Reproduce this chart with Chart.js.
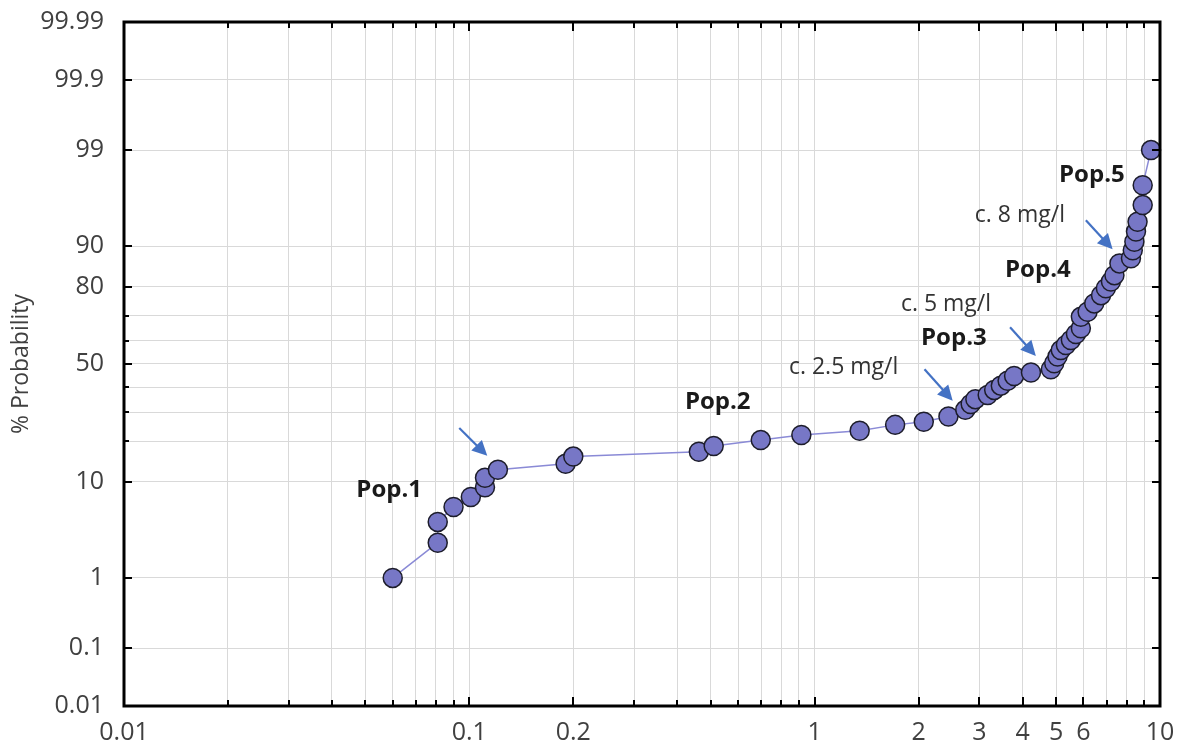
<!DOCTYPE html>
<html lang="en">
<head>
<meta charset="UTF-8">
<title>Probability plot</title>
<script src="https://cdn.jsdelivr.net/npm/chart.js"></script>
<style>
  html, body { margin: 0; padding: 0; background: #fff; }
</style>
</head>
<body>
<canvas id="probChart" width="1183" height="747"></canvas>
<script>
// concentration (mg/l) vs cumulative % probability
const conc = [0.060, 0.081, 0.081, 0.090, 0.101, 0.111, 0.111, 0.121, 0.190, 0.200,
              0.462, 0.510, 0.698, 0.915, 1.35, 1.71, 2.07, 2.44, 2.73, 2.83,
              2.92, 3.17, 3.31, 3.46, 3.62, 3.78, 4.23, 4.83, 4.94, 5.05,
              5.16, 5.34, 5.52, 5.71, 5.90, 5.90, 6.17, 6.45, 6.75, 6.97,
              7.21, 7.38, 7.63, 8.24, 8.34, 8.43, 8.52, 8.61, 8.91, 8.91, 9.42];
const prob = [1.0, 2.6, 4.3, 6.0, 7.4, 9.0, 10.8, 12.5, 13.9, 15.7,
              17.0, 18.6, 20.4, 22.0, 23.4, 25.4, 26.5, 28.4, 30.9, 33.2,
              35.1, 36.8, 38.9, 40.7, 42.8, 44.8, 46.3, 47.7, 50.3, 53.2,
              56.0, 58.2, 60.3, 62.8, 65.1, 69.6, 71.5, 74.5, 77.3, 79.5,
              81.5, 83.3, 86.3, 87.5, 89.2, 90.8, 92.5, 93.9, 95.8, 97.4, 99.0];

// axes
const xTickLabels = ['0.01', '0.1', '0.2', '1', '2', '3', '4', '5', '6', '10'];
const yGrid = [0.01, 0.1, 1, 10, 20, 30, 40, 50, 60, 70, 80, 90, 99, 99.9, 99.99];
const yTickLabels = [0.01, 0.1, 1, 10, 50, 80, 90, 99, 99.9, 99.99];

// annotations (data coordinates)
const popLabels = [
  { text: 'Pop.1', x: 0.0586, y: 8.5 },
  { text: 'Pop.2', x: 0.524, y: 34 },
  { text: 'Pop.3', x: 2.53, y: 61.1 },
  { text: 'Pop.4', x: 4.43, y: 84.7 },
  { text: 'Pop.5', x: 6.35, y: 98.0 }
];
const noteLabels = [
  { text: 'c. 2.5 mg/l', x: 1.213, y: 48.3 },
  { text: 'c. 5 mg/l', x: 2.40, y: 74.3 },
  { text: 'c. 8 mg/l', x: 3.93, y: 94.7 }
];
const arrows = [
  { from: [0.0935, 24.3], to: [0.1127, 15.9] },
  { from: [2.08, 47.7], to: [2.51, 34.5] },
  { from: [3.68, 65.5], to: [4.37, 53.5] },
  { from: [6.10, 94.1], to: [7.29, 89.4] }
];

// every 1..9 x 10^n line between 0.01 and 10
const xGrid = [];
for (let e = -2; e <= 0; e++) {
  for (let k = 1; k <= 9; k++) xGrid.push(parseFloat((k * Math.pow(10, e)).toPrecision(6)));
}
xGrid.push(10);

// inverse normal cdf (Acklam)
function probit(p) {
  const a = [-3.969683028665376e+01, 2.209460984245205e+02, -2.759285104469687e+02, 1.383577518672690e+02, -3.066479806614716e+01, 2.506628277459239e+00];
  const b = [-5.447609879822406e+01, 1.615858368580409e+02, -1.556989798598866e+02, 6.680131188771972e+01, -1.328068155288572e+01];
  const c = [-7.784894002430293e-03, -3.223964580411365e-01, -2.400758277161838e+00, -2.549671010114643e+00, 4.374664141464968e+00, 2.938163982698783e+00];
  const d = [7.784695709041462e-03, 3.224671290700398e-01, 2.445134137142996e+00, 3.754408661907416e+00];
  const pl = 0.02425;
  let q, r;
  if (p < pl) {
    q = Math.sqrt(-2 * Math.log(p));
    return (((((c[0]*q+c[1])*q+c[2])*q+c[3])*q+c[4])*q+c[5]) / ((((d[0]*q+d[1])*q+d[2])*q+d[3])*q+1);
  }
  if (p > 1 - pl) {
    q = Math.sqrt(-2 * Math.log(1 - p));
    return -(((((c[0]*q+c[1])*q+c[2])*q+c[3])*q+c[4])*q+c[5]) / ((((d[0]*q+d[1])*q+d[2])*q+d[3])*q+1);
  }
  q = p - 0.5; r = q * q;
  return (((((a[0]*r+a[1])*r+a[2])*r+a[3])*r+a[4])*r+a[5])*q / (((((b[0]*r+b[1])*r+b[2])*r+b[3])*r+b[4])*r+1);
}
function normCdf(z) {
  const t = 1 / (1 + 0.2316419 * Math.abs(z));
  const d = 0.3989423 * Math.exp(-z * z / 2);
  const p = d * t * (0.3193815 + t * (-0.3565638 + t * (1.781478 + t * (-1.821256 + t * 1.330274))));
  return z > 0 ? 1 - p : p;
}

// normal probability axis
class ProbitScale extends Chart.Scale {
  static id = 'probit';
  static defaults = {};
  determineDataLimits() {
    this.min = this.options.min;
    this.max = this.options.max;
  }
  buildTicks() {
    return yGrid.map(v => ({ value: v }));
  }
  getLabelForValue(v) { return String(v); }
  configure() {
    super.configure();
    this._zMin = probit(this.min / 100);
    this._zRange = probit(this.max / 100) - this._zMin;
  }
  getPixelForValue(v) {
    if (v === undefined || v === null || isNaN(v)) return NaN;
    return this.getPixelForDecimal((probit(v / 100) - this._zMin) / this._zRange);
  }
  getValueForPixel(px) {
    return 100 * normCdf(this._zMin + this.getDecimalForPixel(px) * this._zRange);
  }
}
Chart.register(ProbitScale);

const FONT = "'Open Sans', sans-serif";
const TXT = '#404040';

const overlay = {
  id: 'overlay',
  afterDatasetsDraw(chart) {
    const { ctx, chartArea: a, scales: { x, y } } = chart;
    const seg = (x1, y1, x2, y2) => { ctx.beginPath(); ctx.moveTo(x1, y1); ctx.lineTo(x2, y2); ctx.stroke(); };
    ctx.save();
    // inward tick marks on all four sides
    ctx.strokeStyle = '#000';
    ctx.lineWidth = 2;
    x.ticks.forEach(t => {
      const px = Math.round(x.getPixelForValue(t.value));
      const len = t.label ? 9 : 6;
      seg(px, a.bottom, px, a.bottom - len);
      seg(px, a.top, px, a.top + len);
    });
    y.ticks.forEach(t => {
      const py = Math.round(y.getPixelForValue(t.value));
      const len = t.label ? 8 : 5;
      seg(a.left, py, a.left + len, py);
      seg(a.right, py, a.right - len, py);
    });
    // frame
    ctx.lineWidth = 3;
    ctx.strokeRect(a.left, a.top, a.right - a.left, a.bottom - a.top);

    // arrows
    ctx.strokeStyle = '#4472c4';
    ctx.fillStyle = '#4472c4';
    ctx.lineWidth = 2.2;
    arrows.forEach(ar => {
      const x1 = x.getPixelForValue(ar.from[0]), y1 = y.getPixelForValue(ar.from[1]);
      const x2 = x.getPixelForValue(ar.to[0]), y2 = y.getPixelForValue(ar.to[1]);
      const ang = Math.atan2(y2 - y1, x2 - x1);
      const hl = 15, hw = 7.5;
      const bx = x2 - hl * Math.cos(ang), by = y2 - hl * Math.sin(ang);
      seg(x1, y1, bx + 2 * Math.cos(ang), by + 2 * Math.sin(ang));
      ctx.beginPath();
      ctx.moveTo(x2, y2);
      ctx.lineTo(bx + hw * Math.sin(ang), by - hw * Math.cos(ang));
      ctx.lineTo(bx - hw * Math.sin(ang), by + hw * Math.cos(ang));
      ctx.closePath();
      ctx.fill();
    });

    // text labels
    ctx.textAlign = 'center';
    ctx.textBaseline = 'middle';
    ctx.fillStyle = '#1a1a1a';
    ctx.font = "bold 24px " + FONT;
    popLabels.forEach(l => ctx.fillText(l.text, x.getPixelForValue(l.x), y.getPixelForValue(l.y)));
    ctx.fillStyle = '#333333';
    ctx.font = "23px " + FONT;
    noteLabels.forEach(l => ctx.fillText(l.text, x.getPixelForValue(l.x), y.getPixelForValue(l.y)));
    ctx.restore();
  }
};

const ctx = document.getElementById('probChart').getContext('2d');
new Chart(ctx, {
  type: 'scatter',
  data: {
    datasets: [{
      data: conc.map((c, i) => ({ x: c, y: prob[i] })),
      showLine: true,
      borderColor: '#8a8ad6',
      borderWidth: 1.5,
      pointRadius: 9.5,
      pointBackgroundColor: '#7777c6',
      pointBorderColor: '#1d1d2b',
      pointBorderWidth: 1.5,
      clip: false
    }]
  },
  options: {
    responsive: false,
    animation: false,
    devicePixelRatio: 1,
    layout: { padding: { top: 22, right: 23, bottom: 0, left: 0 } },
    plugins: { legend: { display: false }, tooltip: { enabled: false } },
    scales: {
      x: {
        type: 'logarithmic',
        min: 0.01,
        max: 10,
        afterBuildTicks: s => { s.ticks = xGrid.map(v => ({ value: v })); },
        afterFit: s => { s.height = 41; s.paddingLeft = 0; s.paddingRight = 0; },
        ticks: {
          autoSkip: false,
          maxRotation: 0,
          padding: 12,
          color: TXT,
          font: { family: FONT, size: 25 },
          callback: v => xTickLabels.includes(String(v)) ? String(v) : ''
        },
        grid: { color: '#d9d9d9', lineWidth: 1, drawTicks: false },
        border: { display: false }
      },
      y: {
        type: 'probit',
        min: 0.01,
        max: 99.99,
        afterFit: s => { s.width = 124; s.paddingTop = 0; s.paddingBottom = 0; },
        ticks: {
          autoSkip: false,
          padding: 20,
          color: TXT,
          font: { family: FONT, size: 25 },
          callback: v => yTickLabels.includes(v) ? String(v) : ''
        },
        grid: { color: '#d9d9d9', lineWidth: 1, drawTicks: false },
        border: { display: false },
        title: {
          display: true,
          text: '% Probability',
          color: TXT,
          font: { family: FONT, size: 23 },
          padding: { top: 8, bottom: 0 }
        }
      }
    }
  },
  plugins: [overlay]
});
</script>
</body>
</html>
